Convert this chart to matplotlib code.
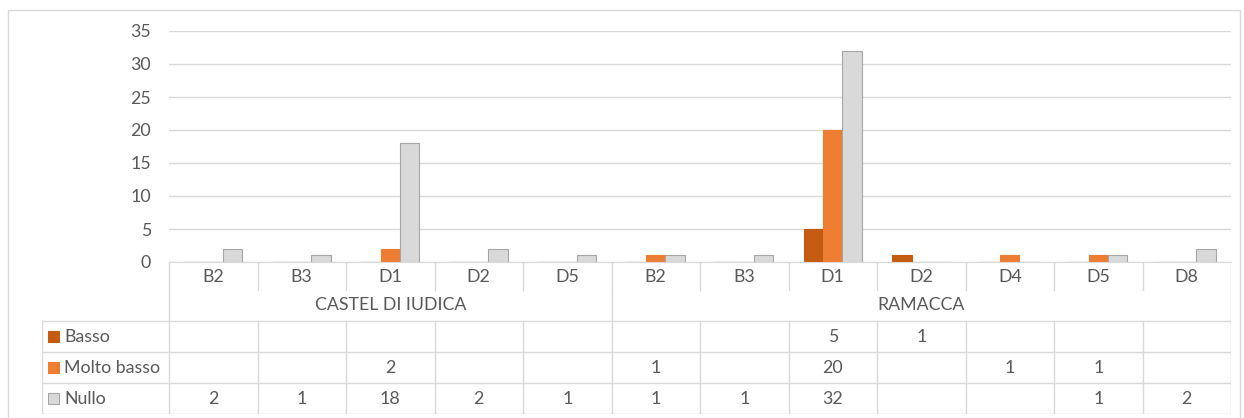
import numpy as np
import matplotlib.pyplot as plt
from matplotlib.patches import Rectangle

# Data
groups = ['CASTEL DI IUDICA', 'RAMACCA']
group_sizes = [5, 7]
categories = ['B2', 'B3', 'D1', 'D2', 'D5', 'B2', 'B3', 'D1', 'D2', 'D4', 'D5', 'D8']
series = ['Basso', 'Molto basso', 'Nullo']
basso = [None, None, None, None, None, None, None, 5, 1, None, None, None]
molto_basso = [None, None, 2, None, None, 1, None, 20, None, 1, 1, None]
nullo = [2, 1, 18, 2, 1, 1, 1, 32, None, None, 1, 2]
values = [basso, molto_basso, nullo]

colors = ['#C55A11', '#ED7D31', '#D9D9D9']
edges = ['#C55A11', '#ED7D31', '#A6A6A6']
txt = '#595959'
grid_c = '#D9D9D9'
fs = 12.8

plt.rcParams['font.family'] = ['Lato', 'DejaVu Sans']

W, H = 1244, 418
fig = plt.figure(figsize=(W / 100, H / 100), dpi=100)

# pixel layout
plot_l, plot_r, plot_t, plot_b = 169, 1231, 31, 262
tab_l, tab_b = 42, 414
row_edges = [262, 290, 321, 352, 383, 414]

ax = fig.add_axes([plot_l / W, (H - plot_b) / H, (plot_r - plot_l) / W, (plot_b - plot_t) / H])
n = len(categories)
x = np.arange(n)
bw = 0.22
for k, (vals, c, ec) in enumerate(zip(values, colors, edges)):
    v = [0 if a is None else a for a in vals]
    ax.bar(x + (k - 1) * bw, v, width=bw, color=c, edgecolor=ec, linewidth=0.8, zorder=3)

ax.set_xlim(-0.5, n - 0.5)
ax.set_ylim(0, 35)
ax.set_yticks(range(0, 36, 5))
ax.tick_params(axis='y', length=0, labelsize=fs, labelcolor=txt, pad=13)
ax.set_xticks([])
ax.grid(axis='y', color=grid_c, linewidth=1, zorder=0)
for s in ['top', 'right', 'left']:
    ax.spines[s].set_visible(False)
ax.spines['bottom'].set_color(grid_c)
ax.spines['bottom'].set_zorder(4)

# data table below the plot
cw = (plot_r - plot_l) / n
x0 = -0.5 - (plot_l - tab_l) / cw
axt = fig.add_axes([tab_l / W, (H - tab_b) / H, (plot_r - tab_l) / W, (tab_b - plot_b) / H])
axt.set_xlim(x0, n - 0.5)
axt.set_ylim(tab_b, plot_b)
axt.axis('off')

lw = 1
# horizontal lines
for y in row_edges[2:]:
    axt.plot([x0, n - 0.5], [y, y], color=grid_c, lw=lw)
# category separators
for i in range(n + 1):
    axt.plot([i - 0.5, i - 0.5], [row_edges[0], row_edges[1]], color=grid_c, lw=lw)
    axt.plot([i - 0.5, i - 0.5], [row_edges[2], row_edges[-1]], color=grid_c, lw=lw)
# group separators
bounds = np.cumsum([0] + group_sizes)
for b in bounds:
    axt.plot([b - 0.5, b - 0.5], [row_edges[1], row_edges[2]], color=grid_c, lw=lw)
axt.plot([x0, x0], [row_edges[2], row_edges[-1]], color=grid_c, lw=lw)

# labels
for i, c in enumerate(categories):
    axt.text(i, (row_edges[0] + row_edges[1]) / 2 + 1, c, ha='center', va='center', fontsize=fs, color=txt)
for g, a, b in zip(groups, bounds[:-1], bounds[1:]):
    axt.text((a + b - 1) / 2, (row_edges[1] + row_edges[2]) / 2 - 1, g, ha='center', va='center',
             fontsize=fs, color=txt)
for r, (name, vals, c, ec) in enumerate(zip(series, values, colors, edges)):
    yc = (row_edges[r + 2] + row_edges[r + 3]) / 2
    ks = 11 / cw
    axt.add_patch(Rectangle((x0 + 6 / cw, yc - 5.5), ks, 11, facecolor=c, edgecolor=ec, lw=0.8))
    axt.text(x0 + 22 / cw, yc, name, ha='left', va='center', fontsize=fs, color=txt)
    for i, v in enumerate(vals):
        if v is not None:
            axt.text(i, yc, str(v), ha='center', va='center', fontsize=fs, color=txt)

# chart frame
fr = fig.add_axes([0, 0, 1, 1], zorder=-1)
fr.set_xlim(0, W)
fr.set_ylim(H, 0)
fr.axis('off')
fr.plot([8, 8, 1240, 1240], [H, 10, 10, H], color='#D9D9D9', lw=1)

fig.savefig('out.png', dpi=100, facecolor='white')
